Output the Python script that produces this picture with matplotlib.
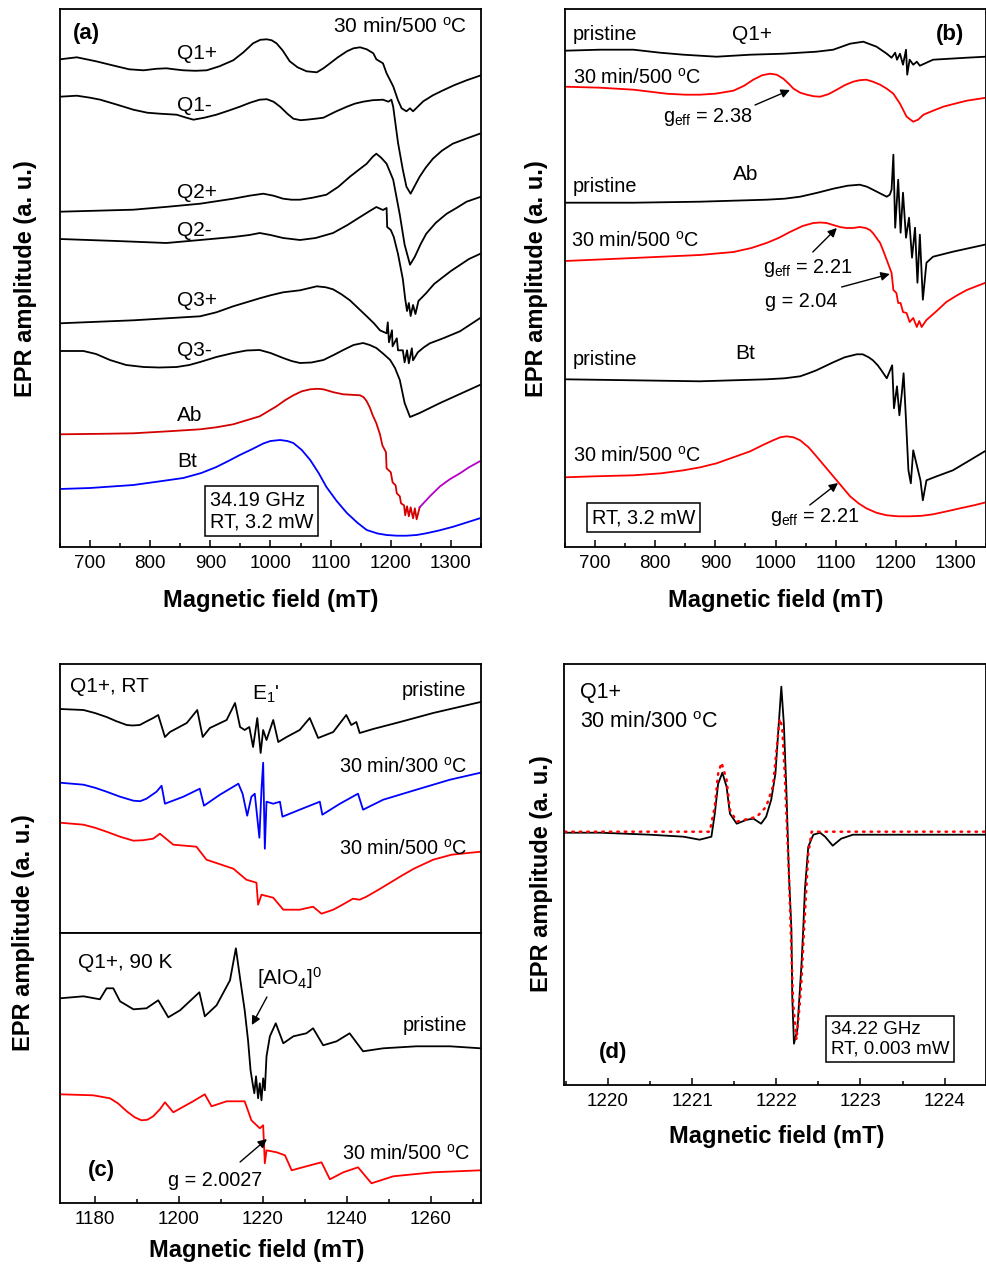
import numpy as np
import matplotlib
matplotlib.use("Agg")
import matplotlib.pyplot as plt
from matplotlib.ticker import MultipleLocator

plt.rcParams['font.family'] = ['Liberation Sans', 'DejaVu Sans']
plt.rcParams['mathtext.fontset'] = 'custom'
plt.rcParams['mathtext.rm'] = 'Liberation Sans'
plt.rcParams['mathtext.it'] = 'Liberation Sans:italic'
plt.rcParams['mathtext.bf'] = 'Liberation Sans:bold'
plt.rcParams['mathtext.default'] = 'regular'

# ---------------- panel (a): all samples, 30 min/500 C ----------------
a_q1p_B = [650, 678, 710, 744, 765, 789, 810, 827, 840, 855, 875, 894, 915, 938, 955, 971, 983, 994, 1002, 1010,
           1020, 1032, 1045, 1060, 1077, 1088, 1099, 1112, 1127, 1138, 1149, 1160, 1171, 1176, 1187, 1193, 1204, 1212,
           1218, 1226, 1232, 1237, 1254, 1270, 1287, 1305, 1326, 1350]
a_q1p_amp = [0, 2, -2, -7, -10, -11, -9.5, -9, -10, -11, -11.5, -11, -7, -1, 7, 16, 19.5, 20, 19, 16,
             9, -2, -8, -12, -13, -9, -4, 2, 8, 11, 12, 10, 6, 0, -4, -14, -27, -41,
             -49, -52, -49, -52, -42, -36, -31, -26, -21, -16]
a_q1m_B = [650, 678, 700, 717, 745, 772, 795, 816, 844, 860, 872, 890, 910, 930, 949, 966, 982, 994, 1005, 1016,
           1028, 1038, 1050, 1060, 1075, 1088, 1108, 1127, 1140, 1154, 1170, 1187, 1196, 1201, 1204, 1212, 1220, 1226,
           1233, 1240, 1248, 1258, 1270, 1285, 1303, 1325, 1348]
a_q1m_amp = [0, 1, -1, -3, -8, -13, -16, -17, -18, -21, -23, -21, -18, -14, -10, -6, -3, -2.5, -5, -10,
             -17, -22, -23.5, -23, -22, -21, -15, -10, -7, -5, -3.5, -3, -5, -3, -10, -46, -73, -90,
             -97, -89, -80, -71, -62, -54, -47, -42, -37]
a_q2p_B = [650, 772, 830, 883, 938, 965, 988, 1005, 1021, 1035, 1049, 1070, 1093, 1113, 1132, 1147, 1160, 1170, 1176,
           1184, 1193, 1204, 1215, 1223, 1232, 1240, 1250, 1259, 1275, 1293, 1310, 1326, 1350]
a_q2p_amp = [0, 2, 5, 8, 13, 16, 18, 16, 13, 12, 12, 14, 17, 25, 35, 42, 48, 55, 58,
             54, 48, 32, -3, -33, -53, -45, -32, -22, -11, -2, 4, 10, 15]
a_q2m_B = [650, 744, 827, 883, 938, 965, 982, 1000, 1021, 1049, 1075, 1104, 1128, 1149, 1165, 1176, 1187, 1193, 1194,
           1200, 1205, 1212, 1220, 1224, 1227, 1230, 1233, 1237, 1241, 1246, 1259, 1272, 1287, 1300, 1315, 1330, 1348]
a_q2m_amp = [0, -2, -4, -1, 2, 4, 6, 4, 1, -1, 1, 6, 14, 22, 28, 32, 29, 31, 12,
             9, 2, -15, -40, -60, -72, -64, -77, -66, -75, -62, -54, -45, -38, -32, -26, -20, -15]
a_q3p_B = [650, 772, 883, 910, 938, 960, 982, 1000, 1021, 1049, 1077, 1092, 1104, 1118, 1132, 1146, 1160, 1172, 1182,
           1193, 1195, 1197, 1202, 1203, 1210, 1212, 1220, 1223, 1227, 1230, 1235, 1237, 1245, 1255, 1265, 1287, 1315,
           1348]
a_q3p_amp = [0, 3, 7, 11, 17, 21, 25, 28, 31, 33, 37, 36, 34, 29, 23, 15, 7, 0, -7,
             -10, 1, -19, -7, -23, -15, -27, -27, -39, -27, -40, -25, -37, -29, -24, -20, -15, -8,
             5]
a_q3m_B = [650, 689, 710, 733, 760, 789, 815, 844, 865, 883, 910, 938, 960, 982, 1000, 1021, 1035, 1049, 1068, 1088,
           1105, 1121, 1138, 1154, 1165, 1176, 1188, 1199, 1207, 1215, 1223, 1232, 1240, 1248, 1265, 1282, 1315, 1348]
a_q3m_amp = [0, 0, -3, -9, -14, -16, -16.5, -16, -14, -11, -6, -2, 0.5, 1, -2, -7, -10, -12, -11.5, -9,
             -4, 1, 6, 8, 6, 3, -3, -9, -17, -29, -52, -66, -64, -62, -57, -52, -43, -34]
a_ab_B = [650, 720, 772, 830, 883, 910, 938, 960, 982, 996, 1010, 1024, 1038, 1052, 1066, 1078, 1088, 1105, 1121, 1135,
          1149, 1155, 1160, 1165, 1170, 1176, 1182, 1186, 1192, 1193, 1200, 1203, 1208, 1210, 1215, 1217, 1222, 1224,
          1227, 1230, 1233, 1237, 1240, 1243, 1248, 1265, 1282, 1298, 1315, 1330, 1348]
a_ab_amp = [0, 0.5, 1, 3, 5, 7, 10, 14, 18, 23, 28, 34, 39, 43, 45, 45.5, 45, 42, 40, 39.5,
            39, 37, 33, 27, 19, 11, 0, -11, -18, -34, -38, -48, -51, -59, -62, -69, -71, -81,
            -72, -82, -73, -84, -74, -85, -73, -62, -52, -45, -39, -33, -27]
a_bt_B = [650, 700, 772, 820, 855, 885, 910, 930, 949, 970, 988, 1000, 1016, 1028, 1038, 1052, 1066, 1080, 1093, 1110,
          1127, 1145, 1160, 1178, 1193, 1210, 1226, 1243, 1259, 1280, 1304, 1326, 1348]
a_bt_amp = [0, 1, 4, 8, 11, 16, 22, 28, 34, 40, 45.5, 48, 49, 48, 46, 39, 29, 16, 2, -12,
            -24, -34, -41, -44.5, -46, -46.7, -46.7, -46, -44.3, -41.5, -37.7, -33.5, -29.3]
a_labels = ['Q1+', 'Q1-', 'Q2+', 'Q2-', 'Q3+', 'Q3-', 'Ab', 'Bt']
a_offsets = [487.7, 450.3, 335.3, 308, 223.7, 196, 112.7, 58]

# ---------------- panel (b): pristine vs 30 min/500 C ----------------
b_q1_pr_B = [650, 708, 764, 808, 847, 902, 958, 1013, 1068, 1096, 1124, 1146, 1168, 1185, 1193, 1199, 1202, 1207, 1212,
             1217, 1219, 1223, 1229, 1235, 1240, 1262, 1318, 1350]
b_q1_pr_amp = [0, 1, 1, -2, -4, -6, -4, -3, -1, 1, 7, 9, 4, -3, -7, -2, -9, -3, -14, 1, -24, -9, -14, -11, -15, -9,
               -7, -6]
b_q1_ht_B = [650, 708, 764, 819, 850, 874, 900, 930, 948, 963, 978, 991, 1002, 1013, 1022, 1030, 1041, 1052, 1063,
             1074, 1088, 1102, 1115, 1129, 1140, 1151, 1162, 1174, 1185, 1196, 1207, 1218, 1229, 1237, 1246, 1262,
             1279, 1298, 1318, 1350]
b_q1_ht_amp = [0, -1, -3, -7, -8, -8, -7, -4, 1, 7, 11.5, 13, 12, 8, 3, -2, -6, -8, -9.5,
               -10, -7.5, -3, 1.5, 5, 6.5, 7, 5, 2, -2, -7, -17, -30, -35, -33, -28, -24,
               -20, -17, -14, -11]
b_ab_pr_B = [650, 764, 874, 985, 1015, 1041, 1070, 1096, 1120, 1140, 1152, 1162, 1175, 1185, 1190, 1193, 1196, 1199,
             1204, 1208, 1212, 1217, 1222, 1227, 1232, 1236, 1240, 1245, 1251, 1262, 1295, 1348]
b_ab_pr_amp = [0, 0, 1, 3, 4, 6, 10, 14, 17, 18, 16, 13, 9, 6, 8, 13, 48, -25,
               23, -30, 10, -35, -15, -55, -25, -80, -32, -97, -60, -54, -49, -42]
b_ab_ht_B = [650, 764, 874, 930, 960, 985, 1005, 1024, 1045, 1063, 1075, 1085, 1096, 1107, 1118, 1129, 1140, 1150,
             1157, 1162, 1168, 1174, 1180, 1185, 1193, 1196, 1201, 1204, 1208, 1212, 1218, 1223, 1229, 1235, 1239,
             1243, 1251, 1268, 1284, 1300, 1318, 1348]
b_ab_ht_amp = [0, 3, 6, 9, 13, 18, 23, 29, 35, 38, 38.5, 38, 36, 34, 33, 33, 34, 33,
               31, 28, 23, 18, 9, 1, -12, -29, -32, -42, -42, -51, -52, -61, -57, -66, -60,
               -66, -59, -50, -41, -35, -29, -22]
b_bt_pr_B = [650, 764, 874, 985, 1015, 1041, 1055, 1068, 1082, 1096, 1115, 1135, 1145, 1155, 1162, 1170, 1176, 1185,
             1194, 1197, 1202, 1206, 1210, 1213, 1217, 1221, 1225, 1229, 1233, 1237, 1241, 1245, 1251, 1268, 1295,
             1323, 1348]
b_bt_pr_amp = [0, -1, -2, 0, 1, 3, 6, 9, 13, 17, 22, 25, 25, 22, 19, 14, 9, 1,
               14, -29, -7, -36, -14, 6, -41, -91, -104, -71, -81, -91, -101, -121, -101, -97, -91,
               -81, -72]
b_bt_ht_B = [650, 700, 764, 810, 847, 875, 902, 930, 958, 978, 996, 1008, 1018, 1030, 1041, 1055, 1068, 1082, 1096,
             1110, 1124, 1138, 1151, 1168, 1185, 1204, 1223, 1243, 1262, 1285, 1307, 1330, 1350]
b_bt_ht_amp = [0, 1, 2, 4, 7, 10, 14, 20, 26, 32, 37, 40, 41, 40, 37, 30, 21, 11, 1,
               -9, -19, -26, -31, -35.5, -38, -39, -39, -38.5, -37, -34, -31, -28, -25]
b_offsets = [496.3, 460.3, 344.3, 286, 167.7, 69.7]

# ---------------- panel (c): Q1+, narrow scan ----------------
c_rt_pr_B = [1171.7, 1177.3, 1180.0, 1182.8, 1185.0, 1187.6, 1189.0, 1190.7, 1192.5, 1193.9, 1195.1, 1196.7, 1197.9,
             1201.9, 1204.4, 1205.7, 1207.4, 1211.4, 1213.4, 1214.6, 1215.7, 1216.8, 1217.7, 1218.7, 1219.5, 1220.1,
             1220.9, 1222.5, 1223.7, 1225.7, 1228.8, 1231.2, 1233.2, 1236.8, 1239.9, 1241.1, 1242.3, 1243.1, 1246.3,
             1252.7, 1260.6, 1271.9]
c_rt_pr_amp = [0, -1, -4, -8, -12, -16, -16.5, -16, -12, -9, -6, -28, -23,
               -14, -1, -28, -19, -11, 6, -18, -21, -18, -38, -9, -44, -21,
               -31, -11, -33, -28, -21, -9, -29, -23, -6, -16, -13, -24, -20,
               -13, -4, 7]
c_rt_300_B = [1171.7, 1177.3, 1180.0, 1182.8, 1186.0, 1189.2, 1190.8, 1192.3, 1194.7, 1195.9, 1196.7, 1201.1, 1205.0,
              1206.0, 1209.8, 1214.2, 1215.2, 1216.3, 1217.3, 1218.1, 1219.2, 1219.7, 1220.1, 1220.5, 1220.9, 1222.5,
              1224.1, 1224.7, 1228.8, 1233.6, 1234.2, 1238.4, 1242.7, 1243.9, 1248.7, 1256.6, 1264.6, 1271.9]
c_rt_300_amp = [0, -2, -5, -9, -14, -18, -18.5, -16, -9, -3, -21, -14, -6,
                -23, -12, -1, -11, -33, -14, -11, -55, -7, 20, -66, -19, -21,
                -19, -34, -27, -19, -32, -21, -11, -27, -17, -7, 3, 10]
c_rt_500_B = [1171.7, 1177.3, 1180.0, 1182.8, 1186.0, 1189.2, 1191.5, 1193.9, 1195.5, 1198.7, 1204.2, 1206.6, 1213.0,
              1216.1, 1218.5, 1218.9, 1219.7, 1222.5, 1224.9, 1228.8, 1232.0, 1234.0, 1236.8, 1239.0, 1241.5, 1243.1,
              1244.7, 1248.0, 1252.7, 1256.0, 1260.6, 1265.0, 1271.9]
c_rt_500_amp = [0, -2, -5, -9, -14, -18, -17.5, -16, -11, -22, -24, -37, -46,
                -57, -60, -82, -72, -75, -87, -87, -84, -91, -87, -82, -76, -77,
                -74, -66, -54, -46, -37, -32, -29]
c_rt_offsets = [224, 150.3, 110.3]

c_90_pr_B = [1171.7, 1177.3, 1181.2, 1182.8, 1184.4, 1186.0, 1189.2, 1192.3, 1195.1, 1197.5, 1200.3, 1204.9, 1206.2,
             1209.0, 1212.2, 1213.6, 1214.6, 1215.7, 1216.5, 1217.1, 1217.7, 1218.0, 1218.4, 1218.9, 1219.3, 1219.7,
             1220.1, 1220.5, 1220.9, 1221.7, 1223.1, 1224.9, 1227.3, 1230.4, 1232.0, 1234.4, 1237.6, 1240.7, 1243.9,
             1248.7, 1256.6, 1264.6, 1271.9]
c_90_pr_amp = [0, 2, -1, 10, 10, -3, -11, -10, -2, -19, -12, 6, -18, -7, 18, 50, 20, -12, -42, -72, -88, -95, -78,
               -100, -85, -102, -80, -92, -58, -38, -25, -45, -38, -35, -30, -47, -43, -35, -53, -50, -48, -48, -50]
c_90_ht_B = [1171.7, 1179.6, 1183.6, 1185.5, 1187.6, 1189.5, 1191.1, 1192.5, 1193.9, 1195.5, 1196.7, 1198.7, 1203.4,
             1206.2, 1207.8, 1211.4, 1215.7, 1217.3, 1219.3, 1220.1, 1220.5, 1220.9, 1223.3, 1225.3, 1226.9, 1230.4,
             1234.0, 1236.0, 1239.2, 1242.7, 1245.9, 1251.1, 1260.6, 1271.9]
c_90_ht_amp = [0, -1, -4, -9, -17, -23, -26, -25.5, -22, -15, -8, -18, -7,
               0, -12, -7, -7, -26, -34, -31, -69, -56, -58, -61, -76, -72,
               -68, -85, -78, -73, -89, -82, -78, -76]
c_90_offsets = [204.7, 108.7]

# ---------------- panel (d): E1' line with fit ----------------
d_exp_B = [1219.49, 1219.91, 1220.5, 1220.9, 1221.09, 1221.23, 1221.27, 1221.31, 1221.36, 1221.41, 1221.45, 1221.53,
           1221.65, 1221.73, 1221.82, 1221.88, 1221.94, 1221.99, 1222.03, 1222.06, 1222.09, 1222.12, 1222.15, 1222.18,
           1222.19, 1222.21, 1222.25, 1222.30, 1222.32, 1222.34, 1222.38, 1222.44, 1222.52, 1222.58, 1222.67, 1222.77,
           1222.91, 1223.47, 1224.49]
d_exp_amp = [0, 0, -2, -4, -7, -4, 19, 49, 60, 46, 19, 9, 13, 14, 9, 16, 33, 59, 109, 146, 109, 43, -41, -97, -164,
             -211, -197, -131, -97, -57, -14, -2, 0, -4, -13, -6, -2, -2, -2]
d_fit_B = [1219.49, 1221.21, 1221.27, 1221.31, 1221.35, 1221.41, 1221.45, 1221.53, 1221.77, 1221.88, 1221.96, 1222.04,
           1222.07, 1222.10, 1222.15, 1222.20, 1222.24, 1222.28, 1222.30, 1222.33, 1222.38, 1222.42, 1224.49]
d_fit_amp = [1, 1, 26, 59, 70, 53, 23, 11, 16, 26, 46, 114, 106, 60, -41, -170, -207, -170, -147, -97, -21, 1, 1]

BLACK = 'black'
RED = '#ff0000'
DRED = '#d40000'
BLUE = '#0000ff'
PURPLE = '#b400c8'
LW = 1.3
W, H = 987, 1264


def stack(ax, B, amp, offset, color, lw=LW):
    ax.plot(B, np.asarray(amp) + offset, color=color, lw=lw, solid_joinstyle='round')


def style(ax, xlim, ylim, major, minor, labels=True):
    ax.set_xlim(*xlim)
    ax.set_ylim(*ylim)
    ax.set_yticks([])
    ax.xaxis.set_major_locator(MultipleLocator(major))
    ax.xaxis.set_minor_locator(MultipleLocator(minor))
    ax.tick_params(axis='x', which='both', direction='in', top=False, bottom=labels,
                   labelbottom=labels, labelsize=13.5, pad=6, width=1.1)
    ax.tick_params(axis='x', which='major', length=5)
    ax.tick_params(axis='x', which='minor', length=3)
    for s in ax.spines.values():
        s.set_linewidth(1.3)


def box(px, py, pw, ph):
    return [px / W, 1 - (py + ph) / H, pw / W, ph / H]


def ftext(px, py, s, **kw):
    fig.text(px / W, 1 - py / H, s, **kw)


fig = plt.figure(figsize=(9.87, 12.64), dpi=100)
BOXP = dict(boxstyle='square,pad=0.25', fc='white', ec='black', lw=1.1)
ARR = dict(arrowstyle='-|>', color='black', lw=1.0, mutation_scale=13, shrinkA=0, shrinkB=0)
deg500 = '30 min/500 $^{o}$C'
deg300 = '30 min/300 $^{o}$C'

# ---- (a)
ax = fig.add_axes(box(60, 9, 421, 538))
a_B = [a_q1p_B, a_q1m_B, a_q2p_B, a_q2m_B, a_q3p_B, a_q3m_B]
a_A = [a_q1p_amp, a_q1m_amp, a_q2p_amp, a_q2m_amp, a_q3p_amp, a_q3m_amp]
for B, A, off in zip(a_B, a_A, a_offsets[:6]):
    stack(ax, B, A, off, BLACK)
abB = np.array(a_ab_B)
abA = np.array(a_ab_amp)
m1 = abB <= 1248
m2 = abB >= 1248
stack(ax, abB[m1], abA[m1], a_offsets[6], DRED)
stack(ax, abB[m2], abA[m2], a_offsets[6], PURPLE)
stack(ax, a_bt_B, a_bt_amp, a_offsets[7], BLUE)
style(ax, (650, 1350), (0, 538), 100, 50)
ax.text(0.031, 0.954, '(a)', transform=ax.transAxes, fontsize=16, fontweight='bold', va='center')
ax.text(0.967, 0.967, deg500, transform=ax.transAxes, fontsize=15, ha='right', va='center')
for lab, fy in zip(a_labels, [0.918, 0.820, 0.659, 0.588, 0.459, 0.366, 0.245, 0.158]):
    ax.text(0.278, fy, lab, transform=ax.transAxes, fontsize=15, va='center')
ax.text(0.356, 0.067, '34.19 GHz\nRT, 3.2 mW', transform=ax.transAxes, fontsize=14.3, va='center',
        linespacing=1.15, bbox=BOXP)

# ---- (b)
ax = fig.add_axes(box(565, 9, 421, 538))
b_B = [b_q1_pr_B, b_q1_ht_B, b_ab_pr_B, b_ab_ht_B, b_bt_pr_B, b_bt_ht_B]
b_A = [b_q1_pr_amp, b_q1_ht_amp, b_ab_pr_amp, b_ab_ht_amp, b_bt_pr_amp, b_bt_ht_amp]
for i, (B, A, off) in enumerate(zip(b_B, b_A, b_offsets)):
    stack(ax, B, A, off, BLACK if i % 2 == 0 else RED)
style(ax, (650, 1350), (0, 538), 100, 50)
tr = ax.transAxes
ax.text(0.019, 0.952, 'pristine', transform=tr, fontsize=14.3, va='center')
ax.text(0.444, 0.952, 'Q1+', transform=tr, fontsize=15, va='center', ha='center')
ax.text(0.914, 0.952, '(b)', transform=tr, fontsize=16, fontweight='bold', va='center', ha='center')
ax.text(0.019, 0.872, deg500, transform=tr, fontsize=14.3, va='center')
ax.text(0.233, 0.799, 'g$_{eff}$ = 2.38', transform=tr, fontsize=14.3, va='center')
ax.annotate('', xy=(1024, 457), xytext=(966, 442), arrowprops=ARR)
ax.text(0.019, 0.671, 'pristine', transform=tr, fontsize=14.3, va='center')
ax.text(0.428, 0.693, 'Ab', transform=tr, fontsize=15, va='center', ha='center')
ax.text(0.014, 0.569, deg500, transform=tr, fontsize=14.3, va='center')
ax.text(0.470, 0.519, 'g$_{eff}$ = 2.21', transform=tr, fontsize=14.3, va='center')
ax.annotate('', xy=(1102, 319), xytext=(1062, 295), arrowprops=ARR)
ax.text(0.475, 0.457, 'g = 2.04', transform=tr, fontsize=14.3, va='center')
ax.annotate('', xy=(1190, 273), xytext=(1110, 260), arrowprops=ARR)
ax.text(0.019, 0.348, 'pristine', transform=tr, fontsize=14.3, va='center')
ax.text(0.428, 0.359, 'Bt', transform=tr, fontsize=15, va='center', ha='center')
ax.text(0.019, 0.169, deg500, transform=tr, fontsize=14.3, va='center')
ax.text(0.487, 0.056, 'g$_{eff}$ = 2.21', transform=tr, fontsize=14.3, va='center')
ax.annotate('', xy=(1104, 64), xytext=(1057, 42), arrowprops=ARR)
ax.text(0.064, 0.054, 'RT, 3.2 mW', transform=tr, fontsize=14.3, va='center', bbox=BOXP)

# ---- (c) top: RT
ax = fig.add_axes(box(60, 664, 421, 269))
for B, A, off, c in zip([c_rt_pr_B, c_rt_300_B, c_rt_500_B], [c_rt_pr_amp, c_rt_300_amp, c_rt_500_amp],
                        c_rt_offsets, [BLACK, BLUE, RED]):
    stack(ax, B, A, off, c)
style(ax, (1171.7, 1272), (0, 269), 20, 10, labels=False)
tr = ax.transAxes
ax.text(0.024, 0.918, 'Q1+, RT', transform=tr, fontsize=15, va='center')
ax.text(0.456, 0.888, "E$_1$'", transform=tr, fontsize=15, va='center')
ax.text(0.964, 0.903, 'pristine', transform=tr, fontsize=14.3, va='center', ha='right')
ax.text(0.967, 0.617, deg300, transform=tr, fontsize=14.3, va='center', ha='right')
ax.text(0.967, 0.312, deg500, transform=tr, fontsize=14.3, va='center', ha='right')

# ---- (c) bottom: 90 K
ax = fig.add_axes(box(60, 933, 421, 270))
for B, A, off, c in zip([c_90_pr_B, c_90_ht_B], [c_90_pr_amp, c_90_ht_amp], c_90_offsets, [BLACK, RED]):
    stack(ax, B, A, off, c)
style(ax, (1171.7, 1272), (0, 270), 20, 10)
tr = ax.transAxes
ax.text(0.043, 0.889, 'Q1+, 90 K', transform=tr, fontsize=15, va='center')
ax.text(0.468, 0.833, '[AlO$_4$]$^0$', transform=tr, fontsize=15, va='center')
ax.annotate('', xy=(1217.4, 178), xytext=(1221.0, 206), arrowprops=ARR)
ax.text(0.967, 0.656, 'pristine', transform=tr, fontsize=14.3, va='center', ha='right')
ax.text(0.067, 0.119, '(c)', transform=tr, fontsize=16, fontweight='bold', va='center')
ax.text(0.257, 0.085, 'g = 2.0027', transform=tr, fontsize=14.3, va='center')
ax.annotate('', xy=(1221.0, 64), xytext=(1214.6, 41), arrowprops=ARR)
ax.text(0.974, 0.181, deg500, transform=tr, fontsize=14.3, va='center', ha='right')

# ---- (d)
ax = fig.add_axes(box(564, 664, 422, 421))
ax.plot(d_exp_B, d_exp_amp, color=BLACK, lw=LW, solid_joinstyle='round')
ax.plot(d_fit_B, d_fit_amp, color=RED, lw=1.8, ls=(0, (0.6, 2.4)), dash_capstyle='round')
style(ax, (1219.48, 1224.49), (-252.3, 168.7), 1, 0.5)
tr = ax.transAxes
ax.text(0.038, 0.933, 'Q1+', transform=tr, fontsize=15.5, va='center')
ax.text(0.038, 0.862, deg300, transform=tr, fontsize=15.5, va='center')
ax.text(0.083, 0.078, '(d)', transform=tr, fontsize=16, fontweight='bold', va='center')
ax.text(0.633, 0.109, '34.22 GHz\nRT, 0.003 mW', transform=tr, fontsize=13.5, va='center',
        linespacing=1.15, bbox=BOXP)

# ---- axis titles
lab_kw = dict(fontsize=17, fontweight='bold', ha='center', va='center')
for px, py in [(271, 600), (776, 600), (257, 1250), (777, 1137)]:
    ftext(px, py, 'Magnetic field (mT)', **lab_kw)
for px, py in [(26, 279), (536, 279), (24, 933), (542, 874)]:
    ftext(px, py, 'EPR amplitude (a. u.)', rotation=90, **lab_kw)

fig.savefig('out.png', dpi=100)
